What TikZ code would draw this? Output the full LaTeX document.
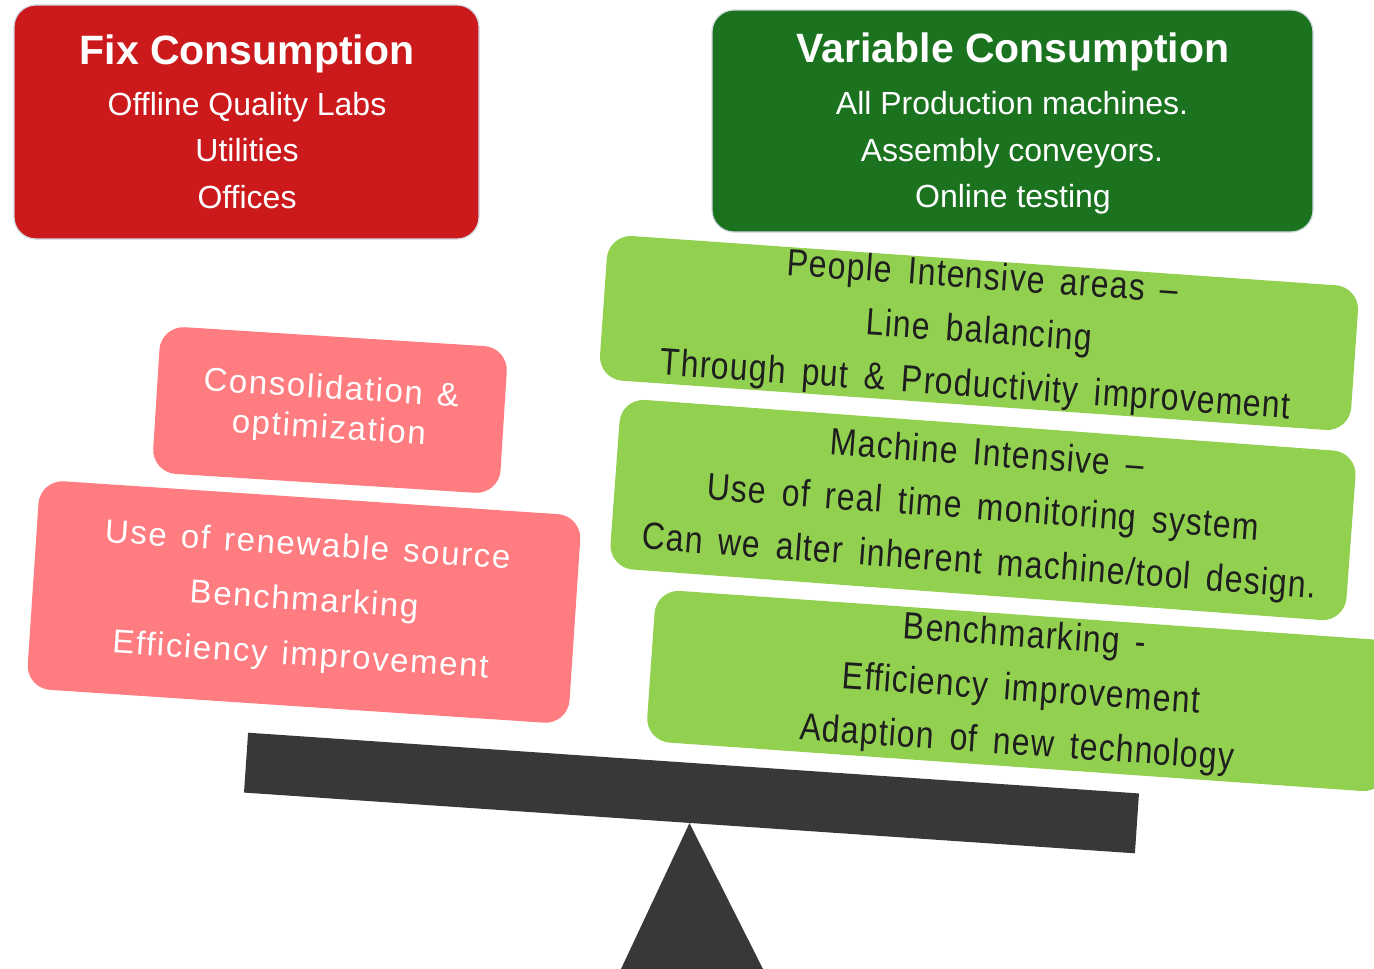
\documentclass[tikz,border=0pt]{standalone}
\usepackage{fontspec}
\setmainfont{Liberation Sans}
\newfontfamily\limefont[FakeStretch=0.84,LetterSpace=3,WordSpace=1.6]{Liberation Sans}
\newfontfamily\pinkfont[LetterSpace=5,WordSpace=1.3]{Liberation Sans}

\definecolor{fixred}{RGB}{204,26,28}
\definecolor{vargreen}{RGB}{27,115,32}
\definecolor{softpink}{RGB}{255,124,128}
\definecolor{limegreen}{RGB}{146,208,80}
\definecolor{beamgray}{RGB}{56,56,56}
\definecolor{edgegray}{RGB}{208,216,226}
\definecolor{darktext}{RGB}{30,30,30}

\begin{document}
\begin{tikzpicture}[x=1pt,y=-1pt,
  headbox/.style={draw=edgegray, line width=1.2pt, rounded corners=22pt, inner sep=0pt},
  headtitle/.style={anchor=base, text=white, font=\bfseries\fontsize{41}{49}\selectfont},
  headline/.style={anchor=base, text=white, font=\fontsize{32}{38}\selectfont},
  pinkbox/.style={fill=softpink, rounded corners=24pt, inner sep=0pt, align=center,
    text=white},
  limebox/.style={fill=limegreen, rounded corners=24pt, inner sep=0pt, align=center,
    text=darktext, font=\limefont\fontsize{38}{54}\selectfont}
]
\clip (0,0) rectangle (1374,969);
\fill[white] (0,0) rectangle (1374,969);

% fixed consumption header
\node[headbox, fill=fixred, minimum width=465pt, minimum height=234pt] (fix) at (246.5,122) {};
\node[headtitle] (fixT) at (247,64) {Fix Consumption};
\node[headline] (fix1) at (247,115) {Offline Quality Labs};
\node[headline] (fix2) at (247,161) {Utilities};
\node[headline] (fix3) at (247,208) {Offices};

% variable consumption header
\node[headbox, fill=vargreen, minimum width=601pt, minimum height=222pt] (var) at (1012.5,121) {};
\node[headtitle] (varT) at (1013,62) {Variable Consumption};
\node[headline] (var1) at (1012,114) {All Production machines.};
\node[headline] (var2) at (1012,161) {Assembly conveyors.};
\node[headline] (var3) at (1013,207) {Online testing};

% fixed-side measures
\node[pinkbox, minimum width=348pt, minimum height=147pt, rotate=-3.6,
  font=\pinkfont\fontsize{33}{40}\selectfont] (cons) at (330,410)
  {Consolidation \&\\optimization};
\node[pinkbox, minimum width=543pt, minimum height=209pt, rotate=-3.8,
  font=\pinkfont\fontsize{33}{55}\selectfont] (renew) at (304,602)
  {Use of renewable source\\Benchmarking\\Efficiency improvement};

% variable-side measures
\node[limebox, minimum width=753pt, minimum height=145pt, rotate=-4.0] (people) at (979,333)
  {People Intensive areas –\\Line balancing\\Through put \& Productivity improvement};
\node[limebox, minimum width=738pt, minimum height=170pt, rotate=-4.2] (machine) at (983,510)
  {Machine Intensive –\\Use of real time monitoring system\\Can we alter inherent machine/tool design.};
\node[limebox, minimum width=742pt, minimum height=152pt, rotate=-4.0] (bench) at (1021,691)
  {Benchmarking -\\Efficiency improvement\\Adaption of new technology};

% balance beam and fulcrum
\node[fill=beamgray, minimum width=893pt, minimum height=60pt, inner sep=0pt, rotate=-3.9] (beam) at (691.5,793) {};
\fill[beamgray] (beam.south) -- (621,969) -- (763,969) -- cycle;
\end{tikzpicture}
\end{document}
